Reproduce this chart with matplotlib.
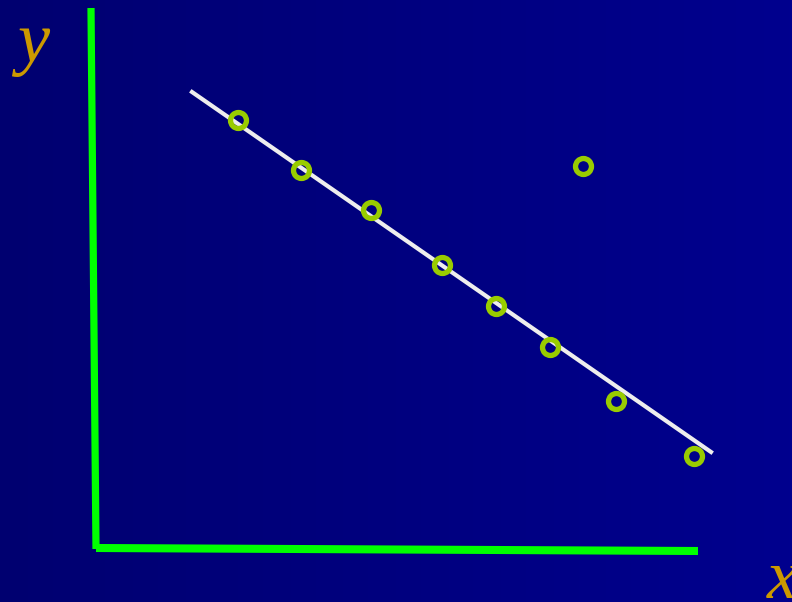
import numpy as np
import matplotlib
matplotlib.use("Agg")
import matplotlib.pyplot as plt

# measured points (arbitrary units) and the one stray reading
x_pts = [1.42, 2.05, 2.75, 3.46, 4.00, 4.54, 5.20, 5.98]
y_pts = [4.29, 3.79, 3.39, 2.84, 2.43, 2.02, 1.48, 0.93]
x_out = [4.87]
y_out = [3.83]

# straight-line fit drawn between its two ends
fit_x = [0.96, 6.15]
fit_y = [4.57, 0.97]

# hand-drawn axes, slightly off true
yaxis_x = [-0.05, 0.0]
yaxis_y = [5.41, 0.0]
xaxis_x = [0.0, 6.02]
xaxis_y = [0.01, -0.02]

fig = plt.figure(figsize=(7.92, 6.02), dpi=100)
ax = fig.add_axes([0, 0, 1, 1])
ax.set_xlim(-0.96, 6.96)
ax.set_ylim(-0.53, 5.49)
ax.axis("off")

# left-to-right navy gradient
grad = np.linspace(0, 1, 256).reshape(1, -1)
cmap = matplotlib.colors.LinearSegmentedColormap.from_list("navy", ["#000070", "#00008e"])
ax.imshow(grad, cmap=cmap, aspect="auto", extent=(-0.96, 6.96, -0.53, 5.49), zorder=0)

ax.plot(yaxis_x, yaxis_y, color="#00ff00", lw=5.2, solid_capstyle="butt", zorder=2)
ax.plot(xaxis_x, xaxis_y, color="#00ff00", lw=5.8, solid_capstyle="butt", zorder=2)

ax.plot(fit_x, fit_y, color="#eeeeee", lw=3, zorder=3)

ax.plot(x_pts + x_out, y_pts + y_out, "o", ms=11.5, mfc="none", mec="#99cc00", mew=3.8, zorder=4)

ax.text(-0.63, 5.05, "y", color="#cc9900", fontsize=52, fontstyle="italic",
        family="Liberation Serif", ha="center", va="center")
ax.text(6.86, -0.32, "x", color="#cc9900", fontsize=50, fontstyle="italic",
        family="Liberation Serif", ha="center", va="center")

fig.savefig("out.png", dpi=100)
